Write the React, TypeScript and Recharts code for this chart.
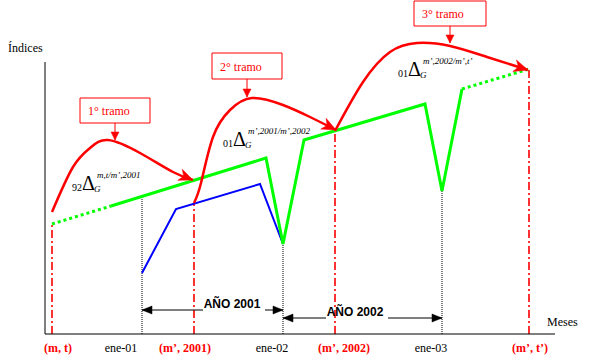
import React from 'react';
import {
  ComposedChart,
  Line,
  XAxis,
  YAxis,
  ReferenceLine,
  ReferenceArea,
  ReferenceDot,
} from 'recharts';

// ---- axis ticks (position on the month axis, label, whether it is a period mark)
const tickValues = [13, 76, 140, 227, 299, 386, 485];
const tickLabels = ['(m, t)', 'ene-01', '(m’, 2001)', 'ene-02', '(m’, 2002)', 'ene-03', '(m’, t’)'];
const tickIsPeriod = [true, false, true, false, true, false, true];

// ---- series (x = time position, y = index value)
const greenStartDotted = [
  { x: 7, y: 110 },
  { x: 66, y: 128 },
];
const greenSolid = [
  { x: 66, y: 128 },
  { x: 221, y: 176 },
  { x: 238, y: 90 },
  { x: 259, y: 194 },
  { x: 380, y: 230 },
  { x: 397, y: 143 },
  { x: 417, y: 245 },
];
const greenEndDotted = [
  { x: 417, y: 245 },
  { x: 484, y: 265 },
];
const blueSeries = [
  { x: 97, y: 61 },
  { x: 131, y: 125 },
  { x: 215, y: 150 },
  { x: 238, y: 90 },
];
const redTramo1 = [
  { x: 7, y: 122 },
  { x: 28, y: 167 },
  { x: 45, y: 186 },
  { x: 63, y: 194 },
  { x: 95, y: 181 },
  { x: 128, y: 162 },
  { x: 148, y: 154 },
];
const redTramo2 = [
  { x: 149, y: 131 },
  { x: 156, y: 151 },
  { x: 168, y: 197 },
  { x: 185, y: 224 },
  { x: 207, y: 236 },
  { x: 238, y: 229 },
  { x: 265, y: 217 },
  { x: 291, y: 204 },
];
const redTramo3 = [
  { x: 290, y: 203 },
  { x: 318, y: 252 },
  { x: 345, y: 282 },
  { x: 372, y: 291 },
  { x: 405, y: 288 },
  { x: 442, y: 277 },
  { x: 483, y: 264 },
];

// ---- vertical markers
const periodMarkX = [7, 149, 290, 484];
const periodMarkTop = [110, 131, 203, 264];
const monthMarkX = [97, 238, 397];
const monthMarkTop = [137, 90, 143];

// ---- year spans
const yearLabels = ['AÑO 2001', 'AÑO 2002'];
const yearFrom = [97, 238];
const yearTo = [238, 397];
const yearLevel = [24, 16];
const yearTextX = [187, 310];
const yearGapFrom = [158, 281];
const yearGapTo = [220, 343];

// ---- tramo boxes
const tramoLabels = ['1° tramo', '2° tramo', '3° tramo'];
const tramoX1 = [35, 167, 369];
const tramoX2 = [105, 237, 441];
const tramoY1 = [211, 255, 308];
const tramoY2 = [236, 281, 333];
const tramoArrowX = [70, 202, 405];
const tramoArrowTip = [194, 237, 291];

// ---- delta annotations
const deltaPre = ['92', '01', '01'];
const deltaSup = ['m,t/m’,2001', 'm’,2001/m’,2002', 'm’,2002/m’,t’'];
const deltaX = [27, 178, 353];
const deltaY = [143, 187, 257];

// ---- axis titles
const yTitle = 'Índices';
const xTitle = 'Meses';
const yTitlePos = { x: -37, y: 282 };
const xTitlePos = { x: 502, y: 8 };

const SERIF = 'Liberation Serif, Times New Roman, serif';
const SANS = 'Liberation Sans, Arial, sans-serif';
const RED = '#ff0000';
const GREEN = '#00ff00';
const BLUE = '#0000ff';

function makeArrowDot(lastIndex: number, color: string, len: number, half: number, notch: number) {
  let px = 0;
  let py = 0;
  return (props: any) => {
    const { cx, cy, index } = props;
    if (index < lastIndex) {
      px = cx;
      py = cy;
      return <g key={`d${index}`} />;
    }
    const dx = cx - px;
    const dy = cy - py;
    const d = Math.hypot(dx, dy) || 1;
    const ux = dx / d;
    const uy = dy / d;
    const bx = cx - ux * len;
    const by = cy - uy * len;
    const nx = -uy;
    const ny = ux;
    const pts = [
      [cx, cy],
      [bx + nx * half, by + ny * half],
      [cx - ux * (len - notch), cy - uy * (len - notch)],
      [bx - nx * half, by - ny * half],
    ];
    return (
      <polygon
        key={`d${index}`}
        points={pts.map((p) => p.join(',')).join(' ')}
        fill={color}
        stroke={color}
        strokeWidth={0.5}
      />
    );
  };
}

const renderTick = (props: any) => {
  const { x, y, payload } = props;
  const i = tickValues.indexOf(payload.value);
  const period = tickIsPeriod[i];
  return (
    <text
      x={x}
      y={y + 18}
      textAnchor="middle"
      style={{ fontFamily: SERIF, fontSize: 12, fontWeight: period ? 'bold' : 'normal' }}
      fill={period ? RED : '#000'}
    >
      {tickLabels[i]}
    </text>
  );
};

const textShape = (txt: string, style: any, fill: string, anchor = 'start') => (props: any) => (
  <text x={props.cx} y={props.cy} style={style} fill={fill} textAnchor={anchor}>
    {txt}
  </text>
);

const deltaShape = (pre: string, sup: string) => (props: any) => {
  const { cx, cy } = props;
  return (
    <g>
      <text x={cx} y={cy} style={{ fontFamily: SERIF, fontSize: 10 }} fill="#000">
        {pre}
      </text>
      <text x={cx + 10} y={cy - 1} style={{ fontFamily: SERIF, fontSize: 20 }} fill="#000">
        Δ
      </text>
      <text x={cx + 22} y={cy + 1} style={{ fontFamily: SERIF, fontSize: 9, fontStyle: 'italic' }} fill="#000">
        G
      </text>
      <text x={cx + 25} y={cy - 13} style={{ fontFamily: SERIF, fontSize: 9, fontStyle: 'italic' }} fill="#000">
        {sup}
      </text>
    </g>
  );
};

export default function App() {
  return (
    <div style={{ position: 'absolute', left: 0, top: 0, background: '#fff' }}>
      <ComposedChart width={600} height={362} margin={{ top: 0, right: 45, bottom: 0, left: 45 }}>
        <XAxis
          type="number"
          dataKey="x"
          domain={[0, 510]}
          ticks={tickValues}
          interval={0}
          tickLine={false}
          tickSize={0}
          tickMargin={0}
          axisLine={{ stroke: '#000', strokeWidth: 1 }}
          height={28}
          tick={renderTick}
          allowDataOverflow
        />
        <YAxis type="number" dataKey="y" domain={[0, 334]} hide allowDataOverflow />

        {/* y axis line */}
        <ReferenceLine segment={[{ x: 0, y: 0 }, { x: 0, y: 272 }]} stroke="#000" strokeWidth={1} />

        {/* vertical markers */}
        {periodMarkX.map((x, i) => (
          <ReferenceLine
            key={`pm${i}`}
            segment={[{ x, y: 0 }, { x, y: periodMarkTop[i] }]}
            stroke={RED}
            strokeWidth={1.6}
            strokeDasharray="8 3 2 3"
          />
        ))}
        {monthMarkX.map((x, i) => (
          <ReferenceLine
            key={`mm${i}`}
            segment={[{ x, y: 0 }, { x, y: monthMarkTop[i] }]}
            stroke="#000"
            strokeWidth={1}
            strokeDasharray="1 1"
          />
        ))}

        {/* series */}
        <Line data={blueSeries} dataKey="y" type="linear" stroke={BLUE} strokeWidth={2} dot={false} activeDot={false} isAnimationActive={false} />
        <Line data={greenStartDotted} dataKey="y" type="linear" stroke={GREEN} strokeWidth={3} strokeDasharray="3 3" dot={false} activeDot={false} isAnimationActive={false} />
        <Line data={greenSolid} dataKey="y" type="linear" stroke={GREEN} strokeWidth={3} dot={false} activeDot={false} isAnimationActive={false} />
        <Line data={greenEndDotted} dataKey="y" type="linear" stroke={GREEN} strokeWidth={3} strokeDasharray="3 3" dot={false} activeDot={false} isAnimationActive={false} />
        <Line data={redTramo1} dataKey="y" type="natural" stroke={RED} strokeWidth={2.5} dot={makeArrowDot(redTramo1.length - 1, RED, 14, 6, 4)} activeDot={false} isAnimationActive={false} />
        <Line data={redTramo2} dataKey="y" type="natural" stroke={RED} strokeWidth={2.5} dot={makeArrowDot(redTramo2.length - 1, RED, 14, 6, 4)} activeDot={false} isAnimationActive={false} />
        <Line data={redTramo3} dataKey="y" type="natural" stroke={RED} strokeWidth={2.5} dot={makeArrowDot(redTramo3.length - 1, RED, 14, 6, 4)} activeDot={false} isAnimationActive={false} />

        {/* year spans */}
        {yearLabels.map((_, i) => (
          <Line
            key={`yl${i}`}
            data={[{ x: yearGapFrom[i], y: yearLevel[i] }, { x: yearFrom[i], y: yearLevel[i] }]}
            dataKey="y"
            type="linear"
            stroke="#000"
            strokeWidth={1}
            dot={makeArrowDot(1, '#000', 10, 4, 0)}
            activeDot={false}
            isAnimationActive={false}
          />
        ))}
        {yearLabels.map((_, i) => (
          <Line
            key={`yr${i}`}
            data={[{ x: yearGapTo[i], y: yearLevel[i] }, { x: yearTo[i], y: yearLevel[i] }]}
            dataKey="y"
            type="linear"
            stroke="#000"
            strokeWidth={1}
            dot={makeArrowDot(1, '#000', 10, 4, 0)}
            activeDot={false}
            isAnimationActive={false}
          />
        ))}
        {yearLabels.map((lab, i) => (
          <ReferenceDot
            key={`yt${i}`}
            x={yearTextX[i]}
            y={yearLevel[i] + 2}
            r={0}
            ifOverflow="visible"
            shape={textShape(lab, { fontFamily: SANS, fontSize: 12, fontWeight: 'bold' }, '#000', 'middle')}
          />
        ))}

        {/* tramo boxes */}
        {tramoLabels.map((_, i) => (
          <ReferenceArea
            key={`tb${i}`}
            x1={tramoX1[i]}
            x2={tramoX2[i]}
            y1={tramoY1[i]}
            y2={tramoY2[i]}
            fill="#fff"
            fillOpacity={1}
            stroke={RED}
            strokeWidth={1}
            ifOverflow="visible"
          />
        ))}
        {tramoLabels.map((lab, i) => (
          <ReferenceDot
            key={`tt${i}`}
            x={tramoX1[i] + 8}
            y={tramoY1[i] + 8}
            r={0}
            ifOverflow="visible"
            shape={textShape(lab, { fontFamily: SERIF, fontSize: 12 }, RED)}
          />
        ))}
        {tramoLabels.map((_, i) => (
          <Line
            key={`ta${i}`}
            data={[{ x: tramoArrowX[i], y: tramoY1[i] }, { x: tramoArrowX[i], y: tramoArrowTip[i] }]}
            dataKey="y"
            type="linear"
            stroke={RED}
            strokeWidth={1}
            dot={makeArrowDot(1, RED, 8, 4, 0)}
            activeDot={false}
            isAnimationActive={false}
          />
        ))}

        {/* delta annotations */}
        {deltaPre.map((pre, i) => (
          <ReferenceDot key={`de${i}`} x={deltaX[i]} y={deltaY[i]} r={0} ifOverflow="visible" shape={deltaShape(pre, deltaSup[i])} />
        ))}

        {/* axis titles */}
        <ReferenceDot x={yTitlePos.x} y={yTitlePos.y} r={0} ifOverflow="visible" shape={textShape(yTitle, { fontFamily: SERIF, fontSize: 12 }, '#000')} />
        <ReferenceDot x={xTitlePos.x} y={xTitlePos.y} r={0} ifOverflow="visible" shape={textShape(xTitle, { fontFamily: SERIF, fontSize: 12 }, '#000')} />
      </ComposedChart>
    </div>
  );
}
